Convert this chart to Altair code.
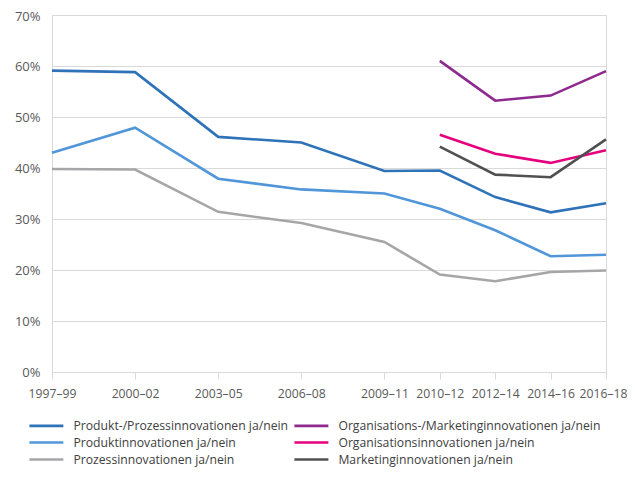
import altair as alt
import pandas as pd

periods = ["1997–99", "2000–02", "2003–05", "2006–08", "2009–11",
           "2010–12", "2012–14", "2014–16", "2016–18"]

series_names = [
    "Produkt-/Prozessinnovationen ja/nein",
    "Produktinnovationen ja/nein",
    "Prozessinnovationen ja/nein",
    "Organisations-/Marketinginnovationen ja/nein",
    "Organisationsinnovationen ja/nein",
    "Marketinginnovationen ja/nein",
]
series_colors = ["#2E72B8", "#5096D8", "#A6A6A8", "#8E2A8E", "#E5007D", "#505050"]

produkt_prozess = [59.1, 58.8, 46.1, 45.0, 39.4, 39.5, 34.3, 31.3, 33.1]
produkt = [43.0, 47.9, 37.9, 35.8, 35.0, 32.0, 27.8, 22.7, 23.0]
prozess = [39.8, 39.7, 31.4, 29.2, 25.5, 19.1, 17.8, 19.6, 19.9]
org_marketing = [None, None, None, None, None, 61.0, 53.2, 54.2, 59.0]
organisation = [None, None, None, None, None, 46.5, 42.8, 41.0, 43.5]
marketing = [None, None, None, None, None, 44.2, 38.7, 38.2, 45.6]

# survey spacing: triennial until 2009–11, biennial afterwards
steps = [0] + [3 if i < 4 else 2 for i in range(len(periods) - 1)]
xpos = []
acc = 0
for s in steps:
    acc += s
    xpos.append(acc)

values_by_series = {
    series_names[0]: produkt_prozess,
    series_names[1]: produkt,
    series_names[2]: prozess,
    series_names[3]: org_marketing,
    series_names[4]: organisation,
    series_names[5]: marketing,
}

rows = []
for name, vals in values_by_series.items():
    for p, x, v in zip(periods, xpos, vals):
        if v is not None:
            rows.append({"Serie": name, "Periode": p, "x": x, "Wert": v / 100})
df = pd.DataFrame(rows)

label_expr = " : ".join(
    [f"datum.value == {x} ? '{p}'" for x, p in zip(xpos, periods)]
) + " : ''"

FONT = "Open Sans"

chart = alt.Chart(df).mark_line(strokeWidth=2.6).encode(
    x=alt.X("x:Q",
            scale=alt.Scale(domain=[xpos[0], xpos[-1]], nice=False, zero=False),
            axis=alt.Axis(values=xpos, labelExpr=label_expr, title=None,
                          grid=False, ticks=True, tickSize=7, tickColor="#D9D9D9",
                          domainColor="#D9D9D9", labelFont=FONT, labelFontSize=12.2,
                          labelColor="#595959", labelPadding=8, labelFlush=False,
                          labelOverlap=False,
                          labelOffset=alt.condition(f"datum.value == {xpos[-1]}",
                                                    alt.value(-3), alt.value(0)))),
    y=alt.Y("Wert:Q",
            scale=alt.Scale(domain=[0, 0.7], nice=False),
            axis=alt.Axis(values=[0, 0.1, 0.2, 0.3, 0.4, 0.5, 0.6, 0.7],
                          format=".0%", title=None, ticks=False, domain=False,
                          gridColor="#D9D9D9", gridWidth=1, labelFont=FONT,
                          labelFontSize=13, labelColor="#595959", labelPadding=12,
                          labelOffset=alt.condition("datum.value >= 0.7",
                                                    alt.value(1.5), alt.value(0)))),
    color=alt.Color("Serie:N",
                    scale=alt.Scale(domain=series_names, range=series_colors),
                    legend=alt.Legend(orient="none", legendX=-12.6, legendY=403.5,
                                      columns=2, title=None,
                                      symbolType="M-3,0H3",
                                      symbolSize=128, symbolStrokeWidth=2.6,
                                      labelFont=FONT, labelFontSize=12.2,
                                      labelColor="#404040", labelLimit=400,
                                      labelOffset=20, columnPadding=0,
                                      gridAlign="each", rowPadding=3)),
    order=alt.Order("x:Q"),
).properties(
    width=554, height=357,
    autosize=alt.AutoSizeParams(type="none"),
    padding={"left": 44, "top": 7, "right": 21, "bottom": 96},
).configure_view(stroke="#D9D9D9", strokeWidth=1)

chart.save("out.html", embed_options={"renderer": "svg", "actions": False})
